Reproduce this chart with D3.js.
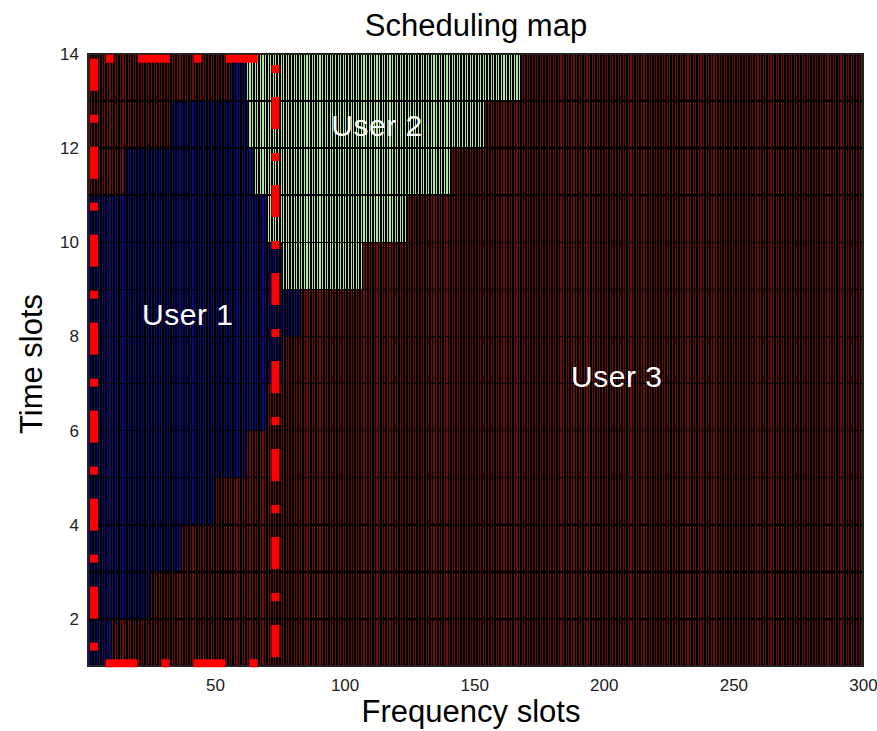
<!DOCTYPE html>
<html>
<head>
<meta charset="utf-8">
<script src="https://cdn.jsdelivr.net/npm/d3@7"></script>
<style>
  body { margin: 0; background: #fff; }
  text { font-family: "Liberation Sans", Arial, sans-serif; }
</style>
</head>
<body>
<svg id="chart"></svg>
<script>
// time slot rows (lower edge of each pcolor row)
const timeSlots = [1, 2, 3, 4, 5, 6, 7, 8, 9, 10, 11, 12, 13];
// frequency edges where each user's block starts / ends in every row
const user1Start = [1, 1, 1, 1, 1, 1, 1, 1, 1, 1, 15, 33, 56];
const user1End   = [10, 25, 37, 50, 62, 70, 76, 83, 76, 70, 65, 63, 62];
const user2End   = [10, 25, 37, 50, 62, 70, 76, 83, 107, 124, 141, 154, 168];
const freqMin = 1, freqMax = 300;
const timeMin = 1, timeMax = 14;
const xTicks = [50, 100, 150, 200, 250, 300];
const yTicks = [2, 4, 6, 8, 10, 12, 14];
// highlighted region (dash-dot box)
const boxFreq = [3.3, 73.3];
const boxTime = [1.06, 13.9];
const userLabels = [
  { name: "User 1", f: 39.5, t: 8.25 },
  { name: "User 2", f: 112.5, t: 12.25 },
  { name: "User 3", f: 205, t: 6.93 }
];
const userColors = { 1: "#0c0c72", 2: "#b0e6a0", 3: "#661010" };

const W = 877, H = 731;
const margin = { top: 54, right: 14, bottom: 65, left: 88 };
const iw = W - margin.left - margin.right;
const ih = H - margin.top - margin.bottom;

const svg = d3.select("#chart").attr("width", W).attr("height", H);
const g = svg.append("g").attr("transform", `translate(${margin.left},${margin.top})`);

const x = d3.scaleLinear().domain([freqMin, freqMax]).range([0, iw]);
const y = d3.scaleLinear().domain([timeMin, timeMax]).range([ih, 0]);

// build the cell grid
const cells = [];
timeSlots.forEach((t, i) => {
  for (let f = freqMin; f < freqMax; f++) {
    let u = 3;
    if (f >= user1Start[i] && f < user1End[i]) u = 1;
    else if (f >= user1End[i] && f < user2End[i]) u = 2;
    cells.push({ f, t, u });
  }
});

g.append("g")
  .attr("shape-rendering", "crispEdges")
  .selectAll("rect")
  .data(cells)
  .enter()
  .append("rect")
  .attr("x", d => x(d.f))
  .attr("y", d => y(d.t + 1))
  .attr("width", x(2) - x(1))
  .attr("height", y(1) - y(2))
  .attr("fill", d => userColors[d.u])
  .attr("stroke", "#000")
  .attr("stroke-width", 1.5);

// frame
g.append("rect")
  .attr("width", iw).attr("height", ih)
  .attr("fill", "none").attr("stroke", "#444").attr("stroke-width", 1);

// dash-dot box, drawn from top-left going down
const bx0 = x(boxFreq[0]), bx1 = x(boxFreq[1]);
const by0 = y(boxTime[1]), by1 = y(boxTime[0]);
g.append("path")
  .attr("d", `M${bx0},${by0}L${bx0},${by1}L${bx1},${by1}L${bx1},${by0}L${bx0},${by0}`)
  .attr("fill", "none")
  .attr("stroke", "#ff0000")
  .attr("stroke-width", 8)
  .attr("stroke-dasharray", "32,24,8,24");

// user labels
g.selectAll(".ulabel")
  .data(userLabels)
  .enter()
  .append("text")
  .attr("class", "ulabel")
  .attr("x", d => x(d.f))
  .attr("y", d => y(d.t))
  .attr("text-anchor", "middle")
  .attr("fill", "#fff")
  .style("font-size", "30px")
  .style("letter-spacing", "0.5px")
  .text(d => d.name);

// axes
const xAxis = g.append("g")
  .attr("transform", `translate(0,${ih})`)
  .call(d3.axisBottom(x).tickValues(xTicks).tickSize(0).tickPadding(13));
const yAxis = g.append("g")
  .call(d3.axisLeft(y).tickValues(yTicks).tickSize(0).tickPadding(9));
[xAxis, yAxis].forEach(a => {
  a.select(".domain").remove();
  a.selectAll("text").style("font-size", "17px").style("font-family", "Liberation Sans, Arial, sans-serif").attr("fill", "#222");
});

// titles
svg.append("text")
  .attr("x", 476).attr("y", 36)
  .attr("text-anchor", "middle")
  .style("font-size", "31px")
  .text("Scheduling map");

svg.append("text")
  .attr("x", 471).attr("y", 722)
  .attr("text-anchor", "middle")
  .style("font-size", "31px")
  .text("Frequency slots");

svg.append("text")
  .attr("transform", "translate(42,364) rotate(-90)")
  .attr("text-anchor", "middle")
  .style("font-size", "31px")
  .text("Time slots");
</script>
</body>
</html>
